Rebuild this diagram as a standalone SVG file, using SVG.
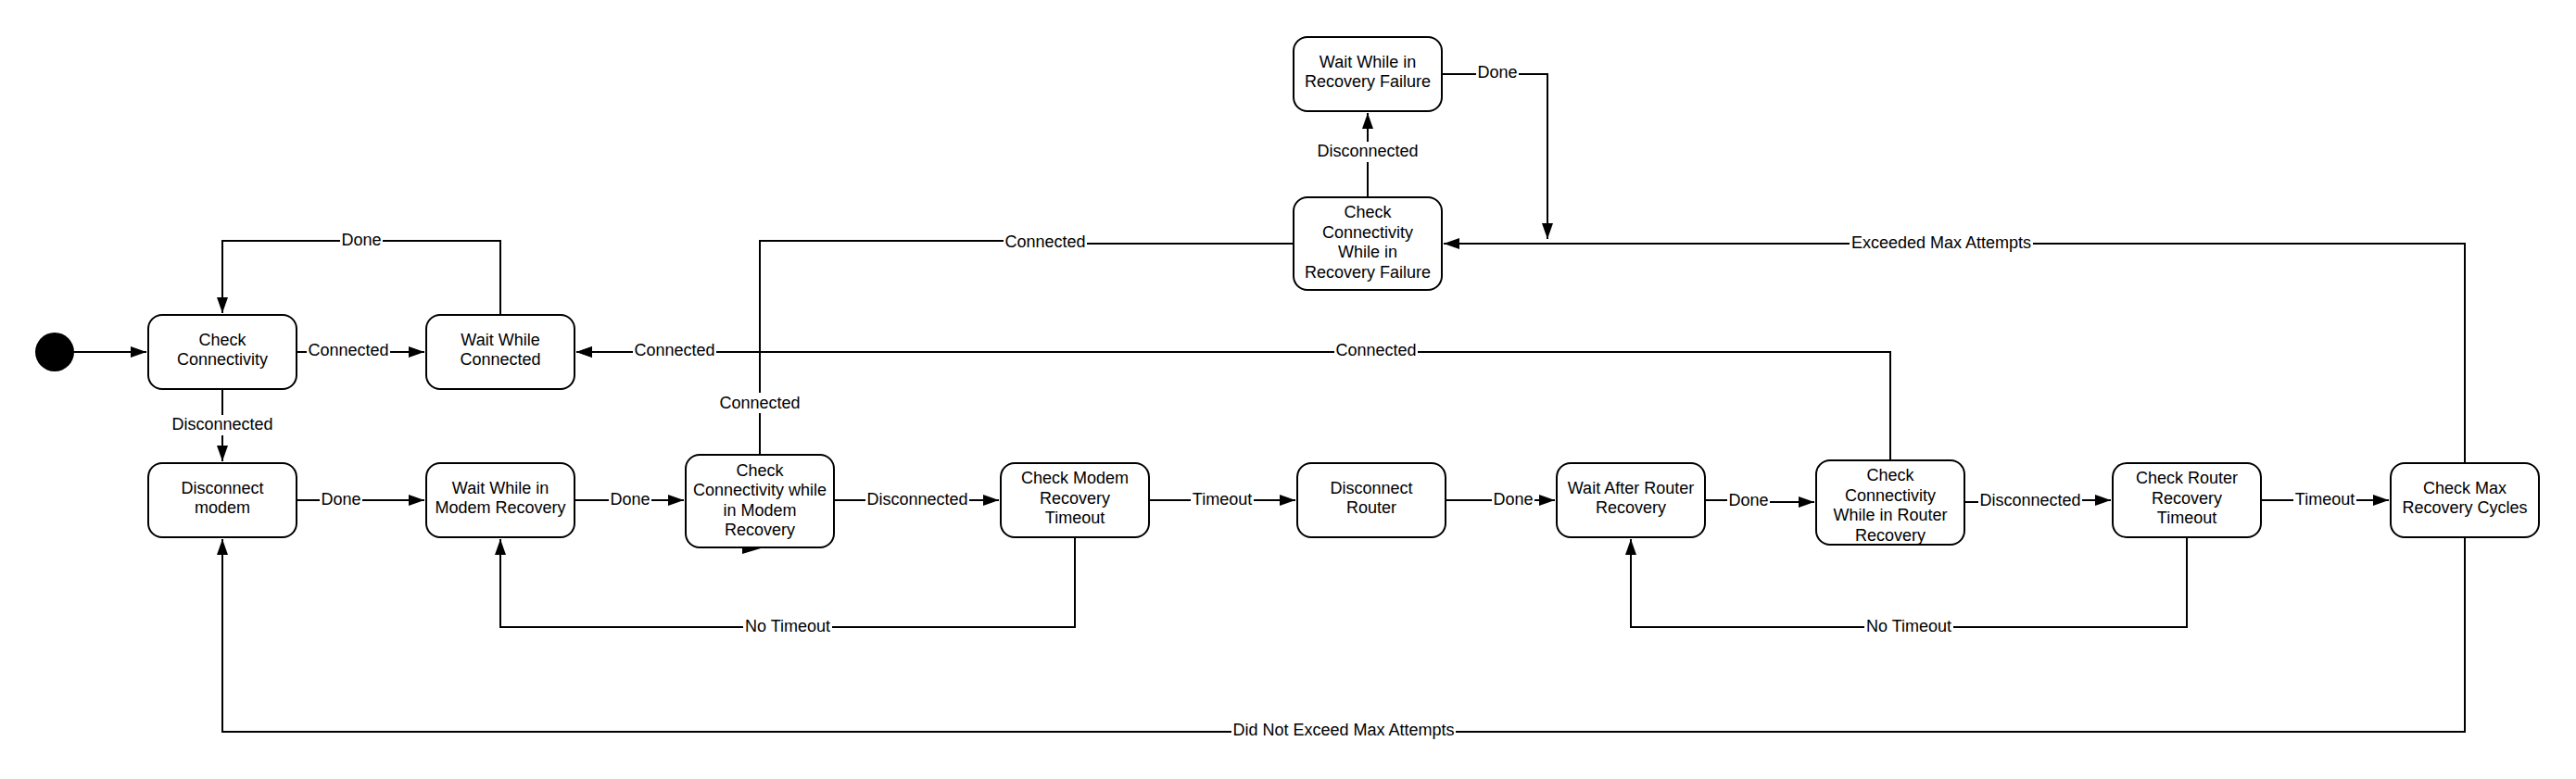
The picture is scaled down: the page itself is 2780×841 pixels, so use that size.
<svg xmlns="http://www.w3.org/2000/svg" width="2780" height="841" viewBox="0 0 2780 841">
<style>
.node rect{fill:#fff;stroke:#000;stroke-width:2}
.node text,.lbl text{font-family:"Liberation Sans",Arial,sans-serif;font-size:18px;fill:#000;text-anchor:middle}
.conn path{fill:none;stroke:#000;stroke-width:2}
.lbl rect{fill:#fff;stroke:none}
</style>
<defs>
<marker id="arr" markerUnits="userSpaceOnUse" markerWidth="18" markerHeight="12" refX="17" refY="6" orient="auto">
<path d="M0,0 L17,6 L0,12 z" fill="#000"/>
</marker>
</defs>
<rect width="2780" height="841" fill="#fff"/>
<g id="connectors" class="conn">
<path d="M80,380 H158" marker-end="url(#arr)"/>
<path d="M320,380 H458" marker-end="url(#arr)"/>
<path d="M540,340 V260 H240 V338" marker-end="url(#arr)"/>
<path d="M240,420 V498" marker-end="url(#arr)"/>
<path d="M320,540 H458" marker-end="url(#arr)"/>
<path d="M620,540 H738" marker-end="url(#arr)"/>
<path d="M820,491 V380 H622" marker-end="url(#arr)"/>
<path d="M1396,263 H1128 V260 H820 V380"/>
<path d="M2040,497 V380 H622" marker-end="url(#arr)"/>
<path d="M900,540 H1078" marker-end="url(#arr)"/>
<path d="M1240,540 H1398" marker-end="url(#arr)"/>
<path d="M1560,540 H1678" marker-end="url(#arr)"/>
<path d="M1840,540 H1887 V542 H1958" marker-end="url(#arr)"/>
<path d="M2120,542 H2191 V540 H2278" marker-end="url(#arr)"/>
<path d="M2440,540 H2578" marker-end="url(#arr)"/>
<path d="M2660,500 V263 H1558" marker-end="url(#arr)"/>
<path d="M1556,80 H1670 V258" marker-end="url(#arr)"/>
<path d="M1476,213 V122" marker-end="url(#arr)"/>
<path d="M1160,580 V677 H540 V582" marker-end="url(#arr)"/>
<path d="M2360,580 V677 H1760 V582" marker-end="url(#arr)"/>
<path d="M2660,580 V790 H240 V582" marker-end="url(#arr)"/>
<polygon points="801,586 821,592 801,598" fill="#000"/>
</g>
<g id="labels" class="lbl">
<rect x="367" y="250" width="46" height="20"/><text x="390" y="265">Done</text>
<rect x="331" y="370" width="90" height="20"/><text x="376" y="384">Connected</text>
<rect x="184" y="448" width="112" height="22"/><text x="240" y="464">Disconnected</text>
<rect x="345" y="530" width="46" height="20"/><text x="368" y="545">Done</text>
<rect x="657" y="530" width="46" height="20"/><text x="680" y="545">Done</text>
<rect x="683" y="370" width="90" height="20"/><text x="728" y="384">Connected</text>
<rect x="775" y="424" width="90" height="22"/><text x="820" y="441">Connected</text>
<rect x="1083" y="252" width="90" height="20"/><text x="1128" y="267">Connected</text>
<rect x="934" y="530" width="112" height="20"/><text x="990" y="545">Disconnected</text>
<rect x="1285" y="530" width="68" height="20"/><text x="1319" y="545">Timeout</text>
<rect x="1610" y="530" width="46" height="20"/><text x="1633" y="545">Done</text>
<rect x="1864" y="531" width="46" height="20"/><text x="1887" y="546">Done</text>
<rect x="1440" y="370" width="90" height="20"/><text x="1485" y="384">Connected</text>
<rect x="2135" y="531" width="112" height="20"/><text x="2191" y="546">Disconnected</text>
<rect x="2475" y="530" width="68" height="20"/><text x="2509" y="545">Timeout</text>
<rect x="1996" y="253" width="198" height="20"/><text x="2095" y="268">Exceeded Max Attempts</text>
<rect x="802" y="667" width="96" height="20"/><text x="850" y="682">No Timeout</text>
<rect x="2012" y="667" width="96" height="20"/><text x="2060" y="682">No Timeout</text>
<rect x="1329" y="780" width="242" height="20"/><text x="1450" y="794">Did Not Exceed Max Attempts</text>
<rect x="1420" y="153" width="112" height="22"/><text x="1476" y="169">Disconnected</text>
<rect x="1593" y="70" width="46" height="20"/><text x="1616" y="84">Done</text>
</g>
<g id="start"><circle cx="59" cy="380" r="21" fill="#000"/></g>
<g id="check-connectivity" class="node"><rect x="160" y="340" width="160" height="80" rx="15"/><text x="240" y="373">Check</text><text x="240" y="394">Connectivity</text></g>
<g id="wait-while-connected" class="node"><rect x="460" y="340" width="160" height="80" rx="15"/><text x="540" y="373">Wait While</text><text x="540" y="394">Connected</text></g>
<g id="disconnect-modem" class="node"><rect x="160" y="500" width="160" height="80" rx="15"/><text x="240" y="533">Disconnect</text><text x="240" y="554">modem</text></g>
<g id="wait-modem-recovery" class="node"><rect x="460" y="500" width="160" height="80" rx="15"/><text x="540" y="533">Wait While in</text><text x="540" y="554">Modem Recovery</text></g>
<g id="check-conn-modem" class="node"><rect x="740" y="491" width="160" height="100" rx="15"/><text x="820" y="514">Check</text><text x="820" y="535">Connectivity while</text><text x="820" y="557">in Modem</text><text x="820" y="578">Recovery</text></g>
<g id="check-modem-timeout" class="node"><rect x="1080" y="500" width="160" height="80" rx="15"/><text x="1160" y="522">Check Modem</text><text x="1160" y="544">Recovery</text><text x="1160" y="565">Timeout</text></g>
<g id="disconnect-router" class="node"><rect x="1400" y="500" width="160" height="80" rx="15"/><text x="1480" y="533">Disconnect</text><text x="1480" y="554">Router</text></g>
<g id="wait-router-recovery" class="node"><rect x="1680" y="500" width="160" height="80" rx="15"/><text x="1760" y="533">Wait After Router</text><text x="1760" y="554">Recovery</text></g>
<g id="check-conn-router" class="node"><rect x="1960" y="497" width="160" height="91" rx="15"/><text x="2040" y="519">Check</text><text x="2040" y="541">Connectivity</text><text x="2040" y="562">While in Router</text><text x="2040" y="584">Recovery</text></g>
<g id="check-router-timeout" class="node"><rect x="2280" y="500" width="160" height="80" rx="15"/><text x="2360" y="522">Check Router</text><text x="2360" y="544">Recovery</text><text x="2360" y="565">Timeout</text></g>
<g id="check-max-cycles" class="node"><rect x="2580" y="500" width="160" height="80" rx="15"/><text x="2660" y="533">Check Max</text><text x="2660" y="554">Recovery Cycles</text></g>
<g id="wait-recovery-failure" class="node"><rect x="1396" y="40" width="160" height="80" rx="15"/><text x="1476" y="73">Wait While in</text><text x="1476" y="94">Recovery Failure</text></g>
<g id="check-conn-recovery-failure" class="node"><rect x="1396" y="213" width="160" height="100" rx="15"/><text x="1476" y="235">Check</text><text x="1476" y="257">Connectivity</text><text x="1476" y="278">While in</text><text x="1476" y="300">Recovery Failure</text></g>
</svg>
